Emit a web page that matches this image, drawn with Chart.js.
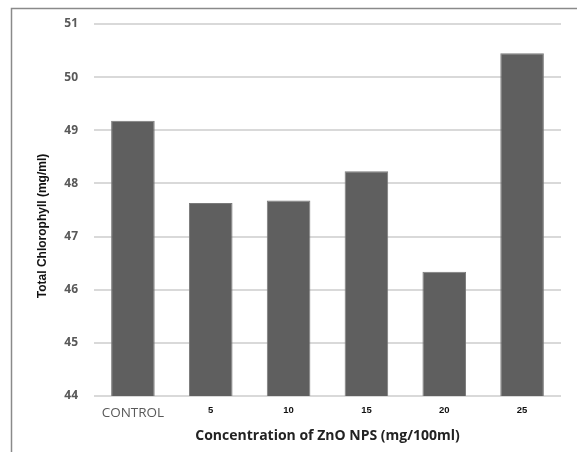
<!DOCTYPE html>
<html>
<head>
<meta charset="utf-8">
<script src="https://cdn.jsdelivr.net/npm/chart.js@4.4.1/dist/chart.umd.min.js"></script>
<style>
  html, body { margin: 0; padding: 0; background: #fff; }
  #wrap { width: 577px; height: 452px; position: relative; }
</style>
</head>
<body>
<div id="wrap"><canvas id="c" width="577" height="452"></canvas></div>
<script>
// Total chlorophyll by ZnO nanoparticle concentration
const categories = ['CONTROL', '5', '10', '15', '20', '25'];
const chlorophyll = [49.18, 47.63, 47.68, 48.23, 46.34, 50.45];
const yTicks = [44, 45, 46, 47, 48, 49, 50, 51];

const yTitle = 'Total Chlorophyll (mg/ml)';
const xTitle = 'Concentration of ZnO NPS (mg/100ml)';

// Outer frame (top and left edges) plus the rotated y-axis caption
const framePlugin = {
  id: 'frame',
  afterDraw(chart) {
    const ctx = chart.ctx;
    ctx.save();
    ctx.strokeStyle = '#8a8a8a';
    ctx.lineWidth = 1.5;
    ctx.beginPath();
    ctx.moveTo(11.5, 452);
    ctx.lineTo(11.5, 8.5);
    ctx.lineTo(577, 8.5);
    ctx.stroke();

    ctx.translate(43, 226);
    ctx.rotate(-Math.PI / 2);
    ctx.fillStyle = '#111';
    ctx.font = 'bold 12px "Liberation Sans Narrow", "Liberation Sans", Arial, sans-serif';
    ctx.textAlign = 'center';
    ctx.textBaseline = 'middle';
    ctx.fillText(yTitle, 0, 0);
    ctx.restore();
  }
};

new Chart(document.getElementById('c'), {
  type: 'bar',
  data: {
    labels: categories,
    datasets: [{
      data: chlorophyll,
      backgroundColor: '#5f5f5f',
      borderColor: '#7a7a7a',
      borderWidth: 1,
      barPercentage: 0.56,
      categoryPercentage: 1.0
    }]
  },
  options: {
    responsive: false,
    animation: false,
    devicePixelRatio: 1,
    layout: { padding: { top: 24, right: 16, left: 0, bottom: 0 } },
    plugins: { legend: { display: false }, tooltip: { enabled: false } },
    scales: {
      x: {
        grid: { display: false, drawTicks: false },
        border: { display: false },
        ticks: {
          padding: 9,
          color: (c) => c.index === 0 ? '#595959' : '#111',
          font: (c) => c.index === 0
            ? { family: '"Open Sans", "Liberation Sans", sans-serif', size: 13.5, weight: 'normal' }
            : { family: '"Liberation Sans", Arial, sans-serif', size: 9.5, weight: 'bold' }
        },
        title: {
          display: true,
          text: xTitle,
          color: '#222',
          font: { family: '"Open Sans", "Liberation Sans", sans-serif', size: 14, weight: 'bold' },
          padding: { top: 4, bottom: 8 }
        },
        afterFit(scale) { scale.height = 56; }
      },
      y: {
        min: 44,
        max: 51,
        afterBuildTicks(scale) { scale.ticks = yTicks.map(v => ({ value: v })); },
        grid: { color: '#d9d9d9', lineWidth: 2, drawTicks: false },
        border: { display: false },
        ticks: {
          padding: 16,
          color: '#595959',
          font: { family: '"Open Sans", "Liberation Sans", sans-serif', size: 12, weight: 'bold' }
        },
        afterFit(scale) { scale.width = 94; }
      }
    }
  },
  plugins: [framePlugin]
});
</script>
</body>
</html>
